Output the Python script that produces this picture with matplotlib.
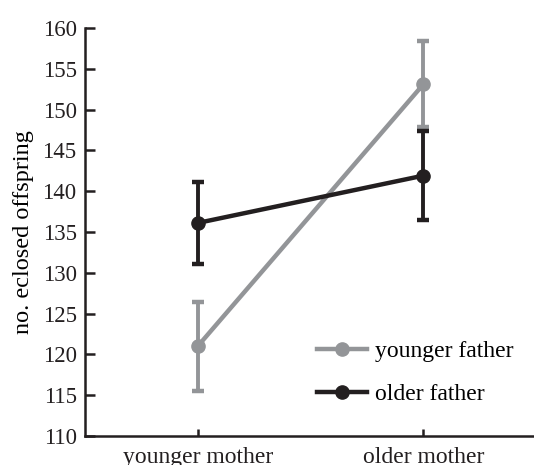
import numpy as np
import matplotlib.pyplot as plt

plt.rcParams['font.family'] = ['Liberation Serif', 'DejaVu Serif']

mothers = ['younger mother', 'older mother']
young_father = [121.0, 153.1]
young_father_err = [5.45, 5.3]
old_father = [136.1, 141.9]
old_father_err = [5.0, 5.45]

grey = '#939598'
black = '#231f20'

fig = plt.figure(figsize=(5.34, 4.65), dpi=100)
ax = fig.add_axes([0.159, 0.0624, 0.841, 0.8776])

x = np.arange(len(mothers))
ax.errorbar(x, young_father, yerr=young_father_err, color=grey, lw=3.2, marker='o', ms=9.5,
            elinewidth=2.8, capsize=4, capthick=3.2, label='younger father')
ax.errorbar(x, old_father, yerr=old_father_err, color=black, lw=3.2, marker='o', ms=9.5,
            elinewidth=2.8, capsize=4, capthick=3.2, label='older father')

ax.set_xlim(-0.5, 1.49)
ax.set_ylim(110, 160)
ax.set_yticks(np.arange(110, 161, 5))
ax.set_xticks(x)
ax.set_xticklabels(mothers)
ax.set_ylabel('no. eclosed offspring', fontsize=17.5)
ax.yaxis.set_label_coords(-0.114, 0.5)

for s in ['top', 'right']:
    ax.spines[s].set_visible(False)
for s in ['left', 'bottom']:
    ax.spines[s].set_linewidth(1.8)
    ax.spines[s].set_color(black)
ax.tick_params(axis='y', direction='in', length=7, width=1.8, labelsize=16.5, pad=6, colors=black)
ax.tick_params(axis='x', direction='in', length=5, width=1.8, labelsize=17, pad=8, colors=black)

handles, labels = ax.get_legend_handles_labels()
handles = [h[0] for h in handles]
ax.legend(handles, labels, loc='lower left', bbox_to_anchor=(0.47, 0.023), frameon=False,
          fontsize=17, handlelength=2.1, handletextpad=0.35, labelspacing=0.93)

fig.savefig('out.png', dpi=100)
